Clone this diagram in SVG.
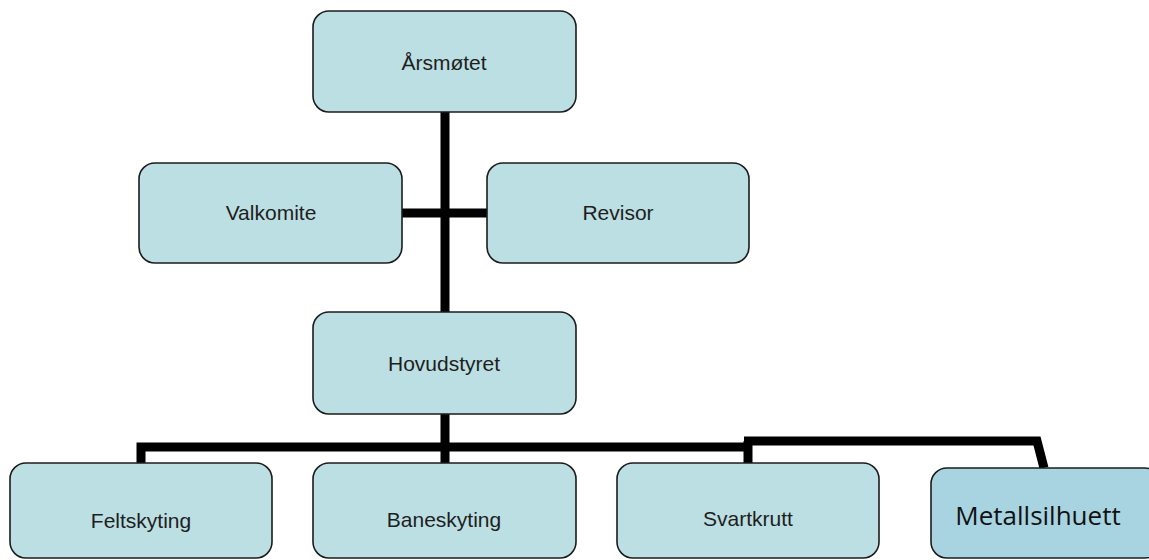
<svg xmlns="http://www.w3.org/2000/svg" width="1149" height="560" viewBox="0 0 1149 560">
<style>
.box{fill:#bcdfe3;stroke:#1c1c1c;stroke-width:1.6}
.box2{fill:#a8d4e1;stroke:#1c1c1c;stroke-width:1.6}
.lbl{font-family:"Liberation Sans",Arial,sans-serif;font-size:21px;fill:#1e1e1e;text-anchor:middle}
.lbl2{font-family:"Open Sans","Noto Sans",sans-serif;font-size:26px;fill:#111;text-anchor:middle}
.con{stroke:#000;stroke-width:9;fill:none;stroke-linejoin:miter}
</style>
<rect width="1149" height="560" fill="#fff"/>
<g id="connectors">
<line class="con" x1="445" y1="112" x2="445" y2="464"/>
<line class="con" x1="401" y1="213" x2="488" y2="213"/>
<path class="con" d="M141 464 V447 H752"/>
<line class="con" x1="748" y1="441" x2="748" y2="464"/>
<path class="con" d="M744 441 H1037 L1044 468" stroke-width="8"/>
</g>
<g id="arsmotet"><rect class="box" x="313" y="11" width="263" height="101" rx="16"/><text class="lbl" x="444" y="70">Årsmøtet</text></g>
<g id="valkomite"><rect class="box" x="139" y="163" width="263" height="100" rx="16"/><text class="lbl" x="271" y="220">Valkomite</text></g>
<g id="revisor"><rect class="box" x="487" y="163" width="262" height="100" rx="16"/><text class="lbl" x="618" y="220">Revisor</text></g>
<g id="hovudstyret"><rect class="box" x="313" y="312" width="263" height="102" rx="16"/><text class="lbl" x="444" y="371">Hovudstyret</text></g>
<g id="feltskyting"><rect class="box" x="10" y="463" width="262" height="95" rx="16"/><text class="lbl" x="141" y="528">Feltskyting</text></g>
<g id="baneskyting"><rect class="box" x="313" y="463" width="263" height="95" rx="16"/><text class="lbl" x="444" y="527">Baneskyting</text></g>
<g id="svartkrutt"><rect class="box" x="617" y="463" width="262" height="95" rx="16"/><text class="lbl" x="748" y="526">Svartkrutt</text></g>
<g id="metallsilhuett"><rect class="box2" x="931" y="468" width="230" height="90" rx="16"/><text class="lbl2" x="1038" y="525">Metallsilhuett</text></g>
</svg>
